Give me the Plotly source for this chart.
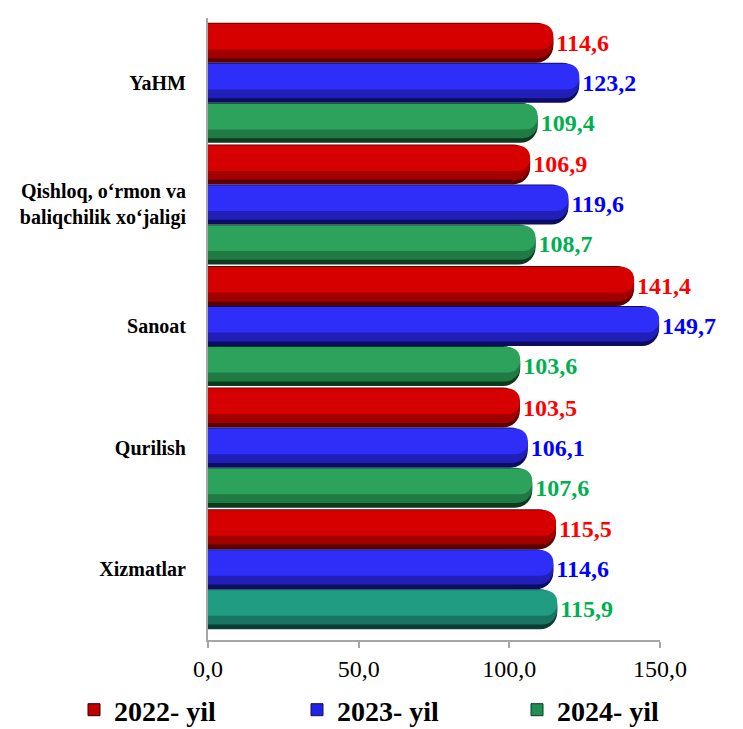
import plotly.graph_objects as go

categories = ["YaHM", "Qishloq, o‘rmon va<br>baliqchilik xo‘jaligi", "Sanoat", "Qurilish", "Xizmatlar"]
series_names = ["2022- yil", "2023- yil", "2024- yil"]
values_2022 = [114.6, 106.9, 141.4, 103.5, 115.5]
values_2023 = [123.2, 119.6, 149.7, 106.1, 114.6]
values_2024 = [109.4, 108.7, 103.6, 107.6, 115.9]
x_ticks = [0, 50, 100, 150]

series_values = [values_2022, values_2023, values_2024]
main_colors = [
    ["#d60000"] * 5,
    ["#2e2ef8"] * 5,
    ["#2ca25c", "#2ca25c", "#2ca25c", "#2ca25c", "#209c82"],
]
mid_colors = [
    ["#a00000"] * 5,
    ["#2020b8"] * 5,
    ["#1f7a44", "#1f7a44", "#1f7a44", "#1f7a44", "#177562"],
]
dark_colors = [
    ["#5a0000"] * 5,
    ["#0c0c62"] * 5,
    ["#0b3a1e", "#0b3a1e", "#0b3a1e", "#0b3a1e", "#093d33"],
]
label_colors = ["#ff0000", "#0000ff", "#00b050"]
legend_colors = ["#c00000", "#2323e6", "#1f8f55"]
legend_edges = ["#300000", "#101050", "#0a3a20"]
legend_ids = ["legend", "legend2", "legend3"]

FONT = "Liberation Serif, Times New Roman, serif"
bar_w = 0.329
start = -0.4935

fig = go.Figure()
for i, name in enumerate(series_names):
    off = start + i * bar_w
    # dark base (shaded lower edge) carrying the value labels
    fig.add_trace(go.Bar(
        y=categories, x=series_values[i], orientation="h",
        width=bar_w, offset=off,
        marker=dict(color=dark_colors[i], cornerradius=17, line=dict(width=0)),
        texttemplate="%{x:.1f}", textposition="outside",
        textfont=dict(family=FONT, size=24, color=label_colors[i], weight="bold"),
        cliponaxis=False, constraintext="none",
        showlegend=False, hoverinfo="skip",
    ))
    # mid tone
    fig.add_trace(go.Bar(
        y=categories, x=series_values[i], orientation="h",
        width=bar_w * 0.86, offset=off + 0.008,
        marker=dict(color=mid_colors[i], cornerradius=15, line=dict(width=0)),
        textposition="none", showlegend=False, hoverinfo="skip",
    ))
    # bright top part
    fig.add_trace(go.Bar(
        y=categories, x=series_values[i], orientation="h",
        width=bar_w * 0.64, offset=off + 0.008,
        marker=dict(color=main_colors[i], cornerradius=12, line=dict(width=0)),
        textposition="none", showlegend=False, hoverinfo="skip",
    ))
    # legend entry
    fig.add_trace(go.Bar(
        y=[None], x=[None], orientation="h", name=name,
        marker=dict(color=legend_colors[i], line=dict(color=legend_edges[i], width=1)),
        showlegend=True, legend=legend_ids[i],
    ))

# the page adds a small body margin, so the layout is laid out slightly up/left
L, R, T, B = 200, 91, 10, 97
plot_w = 743 - L - R
plot_h = 729 - T - B

legend_px = [66, 289, 509]
legend_y = -(702 - (729 - B)) / plot_h
legend_layouts = {}
for lid, px in zip(legend_ids, legend_px):
    legend_layouts[lid] = dict(
        orientation="h", xref="paper", yref="paper",
        x=(px - L) / plot_w, y=legend_y,
        xanchor="left", yanchor="middle",
        font=dict(family=FONT, size=28, color="black", weight="bold"),
        bgcolor="rgba(0,0,0,0)",
    )

fig.update_layout(
    width=743, height=729,
    barmode="overlay",
    separators=", ",
    paper_bgcolor="white", plot_bgcolor="white",
    margin=dict(l=L, r=R, t=T, b=B, autoexpand=False),
    font=dict(family=FONT, color="black"),
    showlegend=True,
    xaxis=dict(
        range=[0, 150], tickvals=x_ticks, tickformat=".1f",
        showgrid=False, zeroline=False,
        showline=True, linecolor="#a6a6a6", linewidth=2,
        ticks="outside", tickcolor="#a6a6a6", ticklen=6, tickwidth=2,
        tickfont=dict(family=FONT, size=24, color="black"),
    ),
    yaxis=dict(
        categoryorder="array", categoryarray=categories,
        range=[4.582, -0.533],
        showgrid=False, zeroline=False,
        showline=True, linecolor="#a6a6a6", linewidth=2,
        ticks="", ticklabelstandoff=16,
        tickfont=dict(family=FONT, size=20, color="black", weight="bold"),
    ),
    **legend_layouts,
)

fig.write_html("out.html")
